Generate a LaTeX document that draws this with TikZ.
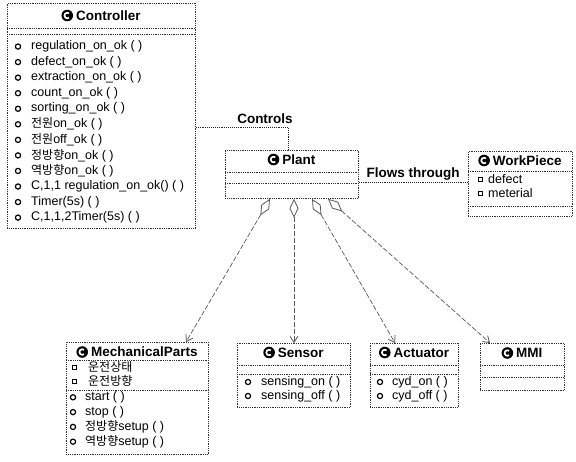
\documentclass[tikz,border=0pt]{standalone}
\usepackage{fontspec}
\setmainfont{Liberation Sans}
\newfontfamily\kr{Noto Sans CJK KR}
\usetikzlibrary{arrows.meta}
\newcommand\K[1]{{\kr\fontsize{12}{13}\selectfont #1}}
\newcommand\cic{\tikz[baseline={(0pt,-4.8pt)}]{\fill[black] (0pt,0pt) circle (5.8pt); \draw[white,line width=1.7pt] (50:2.8pt) arc[start angle=50,end angle=310,radius=2.8pt];}}
\begin{document}
\begin{tikzpicture}[x=1pt,y=-1pt,
 box/.style={draw=black!80, densely dotted, line width=0.8pt, inner sep=0pt, rectangle, anchor=north west},
 sep/.style={draw=black!80, densely dotted, line width=0.8pt},
 ttl/.style={font=\fontsize{13.5}{15}\selectfont\bfseries, inner sep=0pt},
 mem/.style={font=\fontsize{12.5}{14}\selectfont, anchor=west, inner sep=0pt},
 mic/.style={draw=black, line width=1.2pt},
 aic/.style={draw=black, line width=0.9pt},
 agg/.style={draw=black!65, dash pattern=on 5pt off 2pt, line width=0.7pt,
   {Diamond[open,length=19pt,width=9pt,line width=0.8pt]}-{Straight Barb[length=6pt,width=8pt,line width=0.8pt]}},
 lnk/.style={draw=black!85, densely dotted, line width=0.9pt},
 lbl/.style={font=\fontsize{13.5}{15}\selectfont\bfseries, inner sep=0pt}]

\useasboundingbox[fill=white] (0,0) rectangle (576,461);

% ---------- Controller ----------
\node[box, minimum width=188pt, minimum height=225pt] (ctrl) at (7,3) {};
\node[ttl] (ctrlT) at (101,15.5) {\cic\hspace{3pt}Controller};
\draw[sep] (7,28) -- (195,28);
\draw[sep] (7,34) -- (195,34);
\foreach \t [count=\i] in {regulation\_on\_ok ( ), defect\_on\_ok ( ), extraction\_on\_ok ( ), count\_on\_ok ( ), sorting\_on\_ok ( ), \K{전원}on\_ok ( ), \K{전원}off\_ok ( ), \K{정방향}on\_ok ( ), \K{역방향}on\_ok ( ), {C,1,1 regulation\_on\_ok() ( )}, Timer(5s) ( ), {C,1,1,2Timer(5s) ( )}}{
  \draw[mic] (18,{31+\i*15.55}) circle (2.6pt);
  \node[mem] (c\i) at (31,{31+\i*15.55}) {\t};
}

% ---------- Plant ----------
\node[box, minimum width=133pt, minimum height=48pt] (plant) at (225,150) {};
\node[ttl] (plantT) at (291.5,159.5) {\cic\hspace{3pt}Plant};
\draw[sep] (225,172) -- (358,172);
\draw[sep] (225,183) -- (358,183);

% ---------- WorkPiece ----------
\node[box, minimum width=104pt, minimum height=65pt] (wp) at (468,151) {};
\node[ttl] (wpT) at (520,160.5) {\cic\hspace{3pt}WorkPiece};
\draw[sep] (468,171) -- (572,171);
\draw[aic] (478,177) rectangle (482,181);
\node[mem] (wp1) at (488,179) {defect};
\draw[aic] (478,191) rectangle (482,195);
\node[mem] (wp2) at (488,193) {meterial};
\draw[sep] (468,206) -- (572,206);

% ---------- MechanicalParts ----------
\node[box, minimum width=142pt, minimum height=112pt] (mech) at (66,342) {};
\node[ttl] (mechT) at (137,352) {\cic\hspace{3pt}MechanicalParts};
\draw[sep] (66,360) -- (208,360);
\draw[aic] (72,365) rectangle (76,369);
\node[mem] (ma1) at (88,367) {\K{운전상태}};
\draw[aic] (72,379) rectangle (76,383);
\node[mem] (ma2) at (88,381) {\K{운전방향}};
\draw[sep] (66,390) -- (208,390);
\foreach \t [count=\i] in {start ( ), stop ( ), \K{정방향}setup ( ), \K{역방향}setup ( )}{
  \draw[mic] (73,{382.5+\i*14.8}) circle (2.6pt);
  \node[mem] (mm\i) at (85,{382.5+\i*14.8}) {\t};
}

% ---------- Sensor ----------
\node[box, minimum width=113pt, minimum height=64pt] (sens) at (237,343) {};
\node[ttl] (sensT) at (293.5,352.5) {\cic\hspace{3pt}Sensor};
\draw[sep] (237,365) -- (350,365);
\draw[sep] (237,374) -- (350,374);
\draw[mic] (248,382) circle (2.6pt);
\node[mem] (s1) at (261,382) {sensing\_on ( )};
\draw[mic] (248,396) circle (2.6pt);
\node[mem] (s2) at (261,396) {sensing\_off ( )};

% ---------- Actuator ----------
\node[box, minimum width=88pt, minimum height=64pt] (act) at (370,343) {};
\node[ttl] (actT) at (414,352.5) {\cic\hspace{3pt}Actuator};
\draw[sep] (370,365) -- (458,365);
\draw[sep] (370,374) -- (458,374);
\draw[mic] (380,382) circle (2.6pt);
\node[mem] (a1) at (392,382) {cyd\_on ( )};
\draw[mic] (380,396) circle (2.6pt);
\node[mem] (a2) at (392,396) {cyd\_off ( )};

% ---------- MMI ----------
\node[box, minimum width=84pt, minimum height=47pt] (mmi) at (480,343) {};
\node[ttl] (mmiT) at (522,353) {\cic\hspace{3pt}MMI};
\draw[sep] (480,365) -- (564,365);
\draw[sep] (480,377) -- (564,377);

% ---------- Controls ----------
\coordinate (cy) at (0,127);
\coordinate (pc) at (288,150);
\draw[lnk] (ctrl.east |- cy) -| (pc);
\node[lbl] (ctlL) at (265,118.5) {Controls};

% ---------- Flows through ----------
\coordinate (fy) at (0,182.5);
\draw[lnk] (plant.east |- fy) -- (wp.west |- fy);
\node[lbl] (flL) at (413,174) {Flows through};

% ---------- aggregations ----------
\coordinate (s1x) at (270,0);
\coordinate (s2x) at (294,0);
\coordinate (s3x) at (312,0);
\coordinate (s4x) at (328,0);
\coordinate (e1x) at (186,0);
\coordinate (e2x) at (294,0);
\coordinate (e3x) at (395,0);
\coordinate (e4x) at (490,0);
\draw[agg] (plant.south -| s1x) -- (mech.north -| e1x);
\draw[agg] (plant.south -| s2x) -- (sens.north -| e2x);
\draw[agg] (plant.south -| s3x) -- (act.north -| e3x);
\draw[agg] (plant.south -| s4x) -- (mmi.north -| e4x);
\end{tikzpicture}
\end{document}
